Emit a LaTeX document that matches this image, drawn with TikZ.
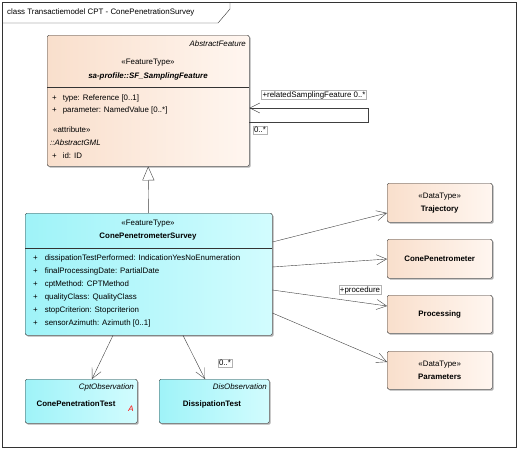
\documentclass[tikz,border=0pt]{standalone}
\usepackage{fontspec}
\setmainfont{Liberation Sans}
\usetikzlibrary{positioning, shapes.geometric, arrows.meta, shadows}
\definecolor{peachL}{HTML}{F9DFCC}
\definecolor{peachR}{HTML}{FFF6F0}
\definecolor{cyanL}{HTML}{9FF3F8}
\definecolor{cyanR}{HTML}{D2FCFE}

\tikzset{
  umlbox/.style={draw=black!80, rounded corners=1.5pt, anchor=north west, inner sep=0pt,
    drop shadow={shadow xshift=1.5pt, shadow yshift=-1.5pt, fill=black!40, opacity=.8}},
  peachbox/.style={umlbox, left color=peachL, right color=peachR},
  cyanbox/.style={umlbox, left color=cyanL, right color=cyanR},
  txt/.style={inner sep=0pt, font=\fontsize{7.9}{9}\selectfont},
  attr/.style={txt, anchor=west},
  tag/.style={txt, draw=black!30, fill=white, inner sep=1pt},
  assoc/.style={draw=black!75, -{Straight Barb[length=10pt,width=10pt]}},
  gen/.style={draw=black!75, -{Triangle[open,length=14pt,width=12pt,fill=white]}}
}

\begin{document}
\begin{tikzpicture}[x=1pt, y=-1pt]
  \useasboundingbox (0,0) rectangle (519,450);
  % frame
  \draw[black!80] (2,2) rectangle (516,447);
  \draw[black!80] (2,23) -- (218,23) -- (230,9) -- (230,2);
  \node[attr] (title) at (7,12) {class Transactiemodel CPT - ConePenetrationSurvey};

  % sampling feature
  \node[peachbox, minimum width=202pt, minimum height=131pt] (sf) at (47,35) {};
  \draw[black!80] (sf.west |- 0,87) -- (sf.east |- 0,87);
  \node[txt, anchor=east] (sfabs) at (246,44) {\itshape AbstractFeature};
  \node[txt] (sfst) at (148,63) {«FeatureType»};
  \node[txt] (sfname) at (148,76) {\bfseries\itshape sa-profile::SF\_SamplingFeature};
  \node[attr] (sfa1) at (52,98) {+\hspace{6pt}type: Reference [0..1]};
  \node[attr] (sfa2) at (52,110) {+\hspace{6pt}parameter: NamedValue [0..*]};
  \node[attr] (sfat) at (53,130) {«attribute»};
  \node[attr] (sfgml) at (50,143) {\itshape ::AbstractGML};
  \node[attr] (sfa3) at (52,156) {+\hspace{6pt}id: ID};

  % survey
  \node[cyanbox, minimum width=247pt, minimum height=122pt] (cps) at (25,213) {};
  \draw[black!80] (cps.west |- 0,248) -- (cps.east |- 0,248);
  \node[txt] (cpsst) at (148,224) {«FeatureType»};
  \node[txt] (cpsname) at (148,237) {\bfseries ConePenetrometerSurvey};
  \node[attr] (cpsa1) at (33,258) {+\hspace{7pt}dissipationTestPerformed: IndicationYesNoEnumeration};
  \node[attr] (cpsa2) at (33,271) {+\hspace{7pt}finalProcessingDate: PartialDate};
  \node[attr] (cpsa3) at (33,284) {+\hspace{7pt}cptMethod: CPTMethod};
  \node[attr] (cpsa4) at (33,297) {+\hspace{7pt}qualityClass: QualityClass};
  \node[attr] (cpsa5) at (33,310) {+\hspace{7pt}stopCriterion: Stopcriterion};
  \node[attr] (cpsa6) at (33,323) {+\hspace{7pt}sensorAzimuth: Azimuth [0..1]};

  % data types
  \node[peachbox, minimum width=105pt, minimum height=39pt] (traj) at (387,183) {};
  \node[txt] (trajst) at (traj.center |- 0,197) {«DataType»};
  \node[txt] (trajname) at (traj.center |- 0,209) {\bfseries Trajectory};
  \node[peachbox, minimum width=105pt, minimum height=39pt] (cpen) at (387,239) {};
  \node[txt] (cpenname) at (cpen.center) {\bfseries ConePenetrometer};
  \node[peachbox, minimum width=105pt, minimum height=38pt] (proc) at (387,295) {};
  \node[txt] (procname) at (proc.center) {\bfseries Processing};
  \node[peachbox, minimum width=105pt, minimum height=38pt] (params) at (387,351) {};
  \node[txt] (parst) at (params.center |- 0,365) {«DataType»};
  \node[txt] (parname) at (params.center |- 0,377) {\bfseries Parameters};

  % observations
  \node[cyanbox, minimum width=112pt, minimum height=44pt] (cpt) at (25,379) {};
  \node[txt, anchor=east] (cptabs) at (134,387) {\itshape CptObservation};
  \node[txt] (cptname) at (76,404) {\bfseries ConePenetrationTest};
  \node[txt, text=red] (cptA) at (131,409) {\itshape A};
  \node[cyanbox, minimum width=110pt, minimum height=44pt] (dis) at (159,379) {};
  \node[txt, anchor=east] (disabs) at (267,387) {\itshape DisObservation};
  \node[txt] (disname) at (212,404) {\bfseries DissipationTest};

  % connectors
  \draw[gen] (cps.north) -- (sf.south);
  \draw[assoc] (sf.east |- 0,122) -| ++(119,-14) -- (sf.east |- 0,108);
  \node[tag] (relname) at (314,95) {+relatedSamplingFeature 0..*};
  \node[tag] (relmult) at (260,130) {0..*};

  \draw[assoc] (cps.east |- 0,242) -- (traj.west |- 0,213);
  \draw[assoc] (cps.east |- 0,267) -- (cpen.west |- 0,259);
  \draw[assoc] (cps.east |- 0,290) -- (proc.west |- 0,306);
  \node[tag] (procrole) at (360,290) {+procedure};
  \draw[assoc] (cps.east |- 0,313) -- (params.west |- 0,362);

  \draw[assoc] (cps.south -| 113,0) -- (cpt.north -| 92,0);
  \draw[assoc] (cps.south -| 183,0) -- (dis.north -| 205,0);
  \node[tag] (dismult) at (225,363) {0..*};
\end{tikzpicture}
\end{document}
